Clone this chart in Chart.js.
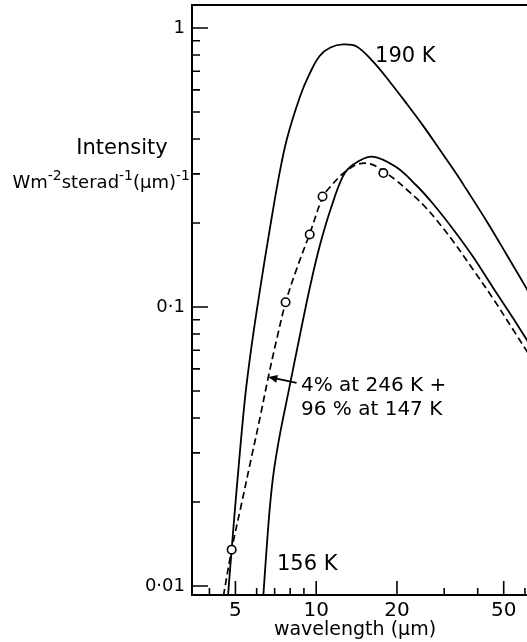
<!DOCTYPE html>
<html>
<head>
<meta charset="utf-8">
<script src="https://cdn.jsdelivr.net/npm/chart.js@4"></script>
<style>
  html, body { margin: 0; padding: 0; background: #fff; overflow: hidden; }
  #wrap { width: 527px; height: 642px; }
  canvas { display: block; }
</style>
</head>
<body>
<div id="wrap"><canvas id="chart" width="527" height="642"></canvas></div>
<script>
// wavelength (um) / intensity pairs
const wl190  = [4.69, 4.84, 5.05, 5.43, 5.77, 6.17, 6.67, 7.22, 7.76, 8.70, 9.48, 10.3, 11.3, 12.6, 14.2, 16.3, 18.8, 21.7, 25.1, 28.9, 33.4, 36.4, 43.2, 51.3, 63];
const int190 = [0.0092, 0.0135, 0.0221, 0.0472, 0.0749, 0.115, 0.183, 0.285, 0.397, 0.567, 0.690, 0.794, 0.851, 0.873, 0.857, 0.757, 0.642, 0.537, 0.445, 0.366, 0.299, 0.263, 0.203, 0.154, 0.110];

const wl156  = [6.35, 6.53, 6.73, 6.96, 7.33, 7.87, 8.70, 9.48, 10.3, 11.3, 12.6, 13.75, 16.1, 19.8, 23.7, 27.3, 32.4, 38.5, 45.7, 54.3, 63];
const int156 = [0.0092, 0.0135, 0.0195, 0.0260, 0.0351, 0.0492, 0.0794, 0.118, 0.165, 0.223, 0.295, 0.324, 0.346, 0.318, 0.272, 0.234, 0.190, 0.151, 0.117, 0.091, 0.0725];

// 4% at 246 K + 96% at 147 K (dashed)
const wlMix  = [4.51, 4.84, 5.25, 5.71, 6.17, 6.63, 7.13, 7.70, 8.48, 9.48, 10.6, 11.3, 12.6, 14.2, 15.9, 17.8, 19.8, 22.4, 25.1, 28.1, 32.4, 38.5, 45.7, 54.3, 63];
const intMix = [0.0092, 0.0135, 0.0194, 0.0283, 0.0400, 0.0561, 0.0768, 0.104, 0.138, 0.184, 0.249, 0.270, 0.301, 0.324, 0.326, 0.307, 0.285, 0.257, 0.232, 0.205, 0.172, 0.136, 0.107, 0.0827, 0.0661];

// measured points (circles)
const wlObs  = [4.84, 7.69, 9.46, 10.56, 17.8];
const intObs = [0.0135, 0.104, 0.182, 0.249, 0.302];

// axes
const xMin = 3.444, xMax = 61.07;
const yMin = 0.009284, yMax = 1.209;
const xTickValues = [5, 10, 20, 50];
const xTickLabels = ['5', '10', '20', '50'];
const xMinorTicks = [4, 6, 7, 8, 9, 30, 40, 60];
const yTickValues = [0.01, 0.1, 1];
const yTickLabels = ['0·01', '0·1', '1'];
const yMinorTicks = [0.02, 0.03, 0.04, 0.05, 0.06, 0.07, 0.08, 0.09, 0.2, 0.3, 0.4, 0.5, 0.6, 0.7, 0.8, 0.9];

// curve labels, anchored in data coordinates (wavelength, intensity)
const labels = [
  { text: '190 K', at: [16.57, 0.755], size: 21 },
  { text: '156 K', at: [7.14, 0.0114], size: 21 },
  { text: '4% at 246 K +', at: [8.78, 0.050], size: 20 },
  { text: '96 % at 147 K', at: [8.78, 0.041], size: 20 }
];
const arrowFrom = [8.45, 0.0535];
const arrowTo = [6.63, 0.0561];

const FONT = '"DejaVu Sans", sans-serif';
Chart.defaults.font.family = FONT;
Chart.defaults.color = '#000';

const pairs = (xs, ys) => xs.map((v, i) => ({ x: v, y: ys[i] }));

const figurePlugin = {
  id: 'figure',
  afterDraw(chart) {
    const { ctx, chartArea: area, scales: { x, y } } = chart;
    ctx.save();
    ctx.strokeStyle = '#000';
    ctx.fillStyle = '#000';

    // top frame line
    ctx.lineWidth = 2;
    ctx.beginPath();
    ctx.moveTo(area.left - 1, area.top);
    ctx.lineTo(area.right, area.top);
    ctx.stroke();

    // inward tick marks
    ctx.lineWidth = 1.6;
    ctx.beginPath();
    yTickValues.forEach(v => {
      const py = y.getPixelForValue(v);
      ctx.moveTo(area.left, py); ctx.lineTo(area.left + 16, py);
    });
    yMinorTicks.forEach(v => {
      const py = y.getPixelForValue(v);
      ctx.moveTo(area.left, py); ctx.lineTo(area.left + 8, py);
    });
    xTickValues.forEach(v => {
      const px = x.getPixelForValue(v);
      ctx.moveTo(px, area.bottom); ctx.lineTo(px, area.bottom - 14);
    });
    xMinorTicks.forEach(v => {
      const px = x.getPixelForValue(v);
      ctx.moveTo(px, area.bottom); ctx.lineTo(px, area.bottom - 7);
    });
    ctx.stroke();

    // curve labels
    ctx.textBaseline = 'alphabetic';
    ctx.textAlign = 'left';
    labels.forEach(l => {
      ctx.font = l.size + 'px ' + FONT;
      ctx.fillText(l.text, x.getPixelForValue(l.at[0]), y.getPixelForValue(l.at[1]));
    });

    // arrow to the dashed curve
    const ax0 = x.getPixelForValue(arrowFrom[0]), ay0 = y.getPixelForValue(arrowFrom[1]);
    const ax1 = x.getPixelForValue(arrowTo[0]), ay1 = y.getPixelForValue(arrowTo[1]);
    const ang = Math.atan2(ay1 - ay0, ax1 - ax0);
    ctx.lineWidth = 1.8;
    ctx.beginPath();
    ctx.moveTo(ax0, ay0);
    ctx.lineTo(ax1 - 6 * Math.cos(ang), ay1 - 6 * Math.sin(ang));
    ctx.stroke();
    ctx.beginPath();
    ctx.moveTo(ax1, ay1);
    ctx.lineTo(ax1 - 9 * Math.cos(ang) + 4 * Math.sin(ang), ay1 - 9 * Math.sin(ang) - 4 * Math.cos(ang));
    ctx.lineTo(ax1 - 9 * Math.cos(ang) - 4 * Math.sin(ang), ay1 - 9 * Math.sin(ang) + 4 * Math.cos(ang));
    ctx.closePath();
    ctx.fill();

    // y axis title (horizontal, two lines)
    ctx.textAlign = 'center';
    ctx.font = '21px ' + FONT;
    ctx.fillText('Intensity', area.left - 70, 154);

    const parts = [['Wm', false], ['-2', true], ['sterad', false], ['-1', true], ['(µm)', false], ['-1', true]];
    const mainFont = '18px ' + FONT, supFont = '14px ' + FONT;
    ctx.textAlign = 'left';
    let total = 0;
    parts.forEach(([t, sup]) => { ctx.font = sup ? supFont : mainFont; total += ctx.measureText(t).width; });
    let cx = area.left - 2 - total;
    parts.forEach(([t, sup]) => {
      ctx.font = sup ? supFont : mainFont;
      ctx.fillText(t, cx, sup ? 180 : 188);
      cx += ctx.measureText(t).width;
    });

    // x axis title
    ctx.textAlign = 'center';
    ctx.font = '19px ' + FONT;
    ctx.fillText('wavelength (µm)', 355, 635);

    ctx.restore();
  }
};

const solid = { borderColor: '#000', borderWidth: 1.8, pointRadius: 0, showLine: true, tension: 0.35, fill: false };

new Chart(document.getElementById('chart'), {
  type: 'scatter',
  data: {
    datasets: [
      { label: 'measured', data: pairs(wlObs, intObs), showLine: false, pointRadius: 4.2, pointBorderWidth: 1.6,
        pointBackgroundColor: '#fff', pointBorderColor: '#000' },
      Object.assign({ label: '190 K', data: pairs(wl190, int190) }, solid),
      Object.assign({ label: '156 K', data: pairs(wl156, int156) }, solid),
      Object.assign({ label: 'mix', data: pairs(wlMix, intMix) }, solid, { borderDash: [7, 4], borderWidth: 1.7 })
    ]
  },
  options: {
    responsive: false,
    devicePixelRatio: 1,
    animation: false,
    events: [],
    layout: { autoPadding: false, padding: { top: 5, right: 0, left: 0, bottom: 0 } },
    plugins: { legend: { display: false }, tooltip: { enabled: false } },
    scales: {
      x: {
        type: 'logarithmic', min: xMin, max: xMax,
        afterBuildTicks: s => { s.ticks = xTickValues.map(v => ({ value: v })); },
        afterFit: s => { s.height = 47; s.paddingLeft = 0; s.paddingRight = 0; },
        grid: { display: false, drawTicks: false },
        border: { display: true, color: '#000', width: 2 },
        ticks: {
          font: { size: 20 }, color: '#000', padding: 4, maxRotation: 0, autoSkip: false,
          callback: v => { const i = xTickValues.indexOf(v); return i >= 0 ? xTickLabels[i] : ''; }
        }
      },
      y: {
        type: 'logarithmic', min: yMin, max: yMax,
        afterBuildTicks: s => { s.ticks = yTickValues.map(v => ({ value: v })); },
        afterFit: s => { s.width = 192; s.paddingTop = 0; s.paddingBottom = 0; },
        grid: { display: false, drawTicks: false },
        border: { display: true, color: '#000', width: 2 },
        ticks: {
          font: { size: 18 }, color: '#000', padding: 7, autoSkip: false,
          callback: v => { const i = yTickValues.indexOf(v); return i >= 0 ? yTickLabels[i] : ''; }
        }
      }
    }
  },
  plugins: [figurePlugin]
});
</script>
</body>
</html>
